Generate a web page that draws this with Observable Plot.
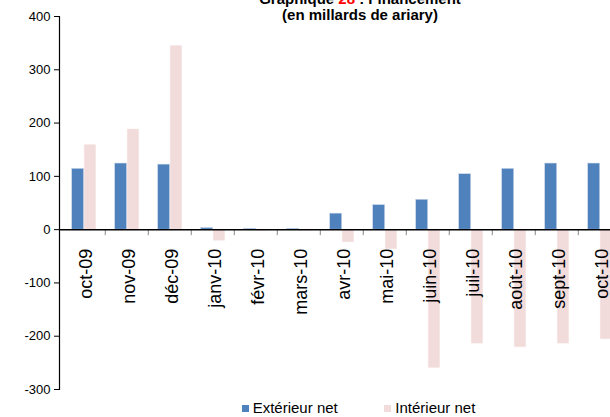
<!DOCTYPE html>
<html>
<head>
<meta charset="utf-8">
<script src="https://cdn.jsdelivr.net/npm/d3@7"></script>
<script src="https://cdn.jsdelivr.net/npm/@observablehq/plot@0.6"></script>
<style>
  html, body { margin: 0; padding: 0; background: #fff; overflow: hidden; width: 610px; height: 417px; }
  #wrap { position: relative; width: 610px; height: 417px; overflow: hidden; font-family: "Liberation Sans", Arial, sans-serif; }
  #title { position: absolute; left: 360px; top: -9px; transform: translateX(-50%); text-align: center; font-weight: bold; font-size: 15px; line-height: 16px; color: #000; white-space: nowrap; }
  #title .red { color: #ff0000; }
  #legend { position: absolute; left: 0; top: 395px; height: 22px; width: 610px; font-size: 15px; color: #000; }
  .item { position: absolute; top: 4px; display: flex; align-items: center; white-space: nowrap; }
  .sw { width: 7px; height: 7px; margin-right: 4px; margin-top: 2px; }
  svg { max-width: none !important; overflow: visible !important; }
</style>
</head>
<body>
<div id="wrap">
  <div id="chart"></div>
  <div id="title">Graphique <span class="red">28</span> : Financement<br>(en millards de ariary)</div>
  <div id="legend"></div>
</div>
<script>
const months = ["oct-09","nov-09","déc-09","janv-10","févr-10","mars-10","avr-10","mai-10","juin-10","juil-10","août-10","sept-10","oct-10"];
const exterieur = [114, 124, 122, 3, 1.5, 1.5, 30, 46, 56, 104, 114, 124, 124];
const interieur = [159, 188, 345, -21, -2.5, -2, -24, -37, -260, -214, -221, -214, -206];
const yTicks = [-300, -200, -100, 0, 100, 200, 300, 400];
const seriesNames = ["Extérieur net", "Intérieur net"];
const colors = ["#4F81BD", "#F2DCDB"];

const W = 624, H = 395, ML = 59, MR = 0, MT = 16, MB = 6;
const band = (W - ML - MR) / months.length;
const pxPerUnit = (H - MT - MB) / 700;

const dataExt = months.map((m, i) => ({month: m, value: exterieur[i]}));
const dataInt = months.map((m, i) => ({month: m, value: interieur[i]}));

const chart = Plot.plot({
  width: W, height: H,
  marginLeft: ML, marginRight: MR, marginTop: MT, marginBottom: MB,
  style: {fontFamily: "'Liberation Sans', Arial, sans-serif", background: "white", overflow: "visible"},
  x: {domain: months, padding: 0, axis: null},
  y: {domain: [-300, 400], ticks: yTicks, tickSize: 5, tickPadding: 4, tickFormat: d => String(d), label: null},
  marks: [
    Plot.axisY({ticks: yTicks, tickSize: 5, tickPadding: 4, tickFormat: d => String(d), fontSize: 13, label: null, color: "#000", stroke: "#000"}),
    Plot.barY(dataExt, {x: "month", y: "value", fill: colors[0], stroke: "#c9d7ea", strokeWidth: 0.5, insetLeft: 9.7, insetRight: band - 22.1}),
    Plot.barY(dataInt, {x: "month", y: "value", fill: colors[1], stroke: "#f8ecec", strokeWidth: 0.5, insetLeft: 22.1, insetRight: 9.2}),
    Plot.ruleX(months.slice(1), {y1: 0, y2: -6 / pxPerUnit, dx: -band / 2, stroke: "#888", strokeWidth: 1}),
    Plot.ruleY([0], {stroke: "#000", strokeWidth: 1.5}),
    Plot.frame({anchor: "left", stroke: "#000", strokeWidth: 1.2}),
    Plot.text(months, {x: d => d, y: 0, text: d => d, rotate: -90, textAnchor: "end", lineAnchor: "middle", dy: 19, dx: 2, fontSize: 18, fill: "#000"})
  ]
});
document.getElementById("chart").appendChild(chart);

const legend = document.getElementById("legend");
const lefts = [241.7, 384.3];
seriesNames.forEach((name, i) => {
  const it = document.createElement("div");
  it.className = "item";
  it.style.left = lefts[i] + "px";
  it.innerHTML = `<span class="sw" style="background:${colors[i]}"></span><span>${name}</span>`;
  legend.appendChild(it);
});
</script>
</body>
</html>
